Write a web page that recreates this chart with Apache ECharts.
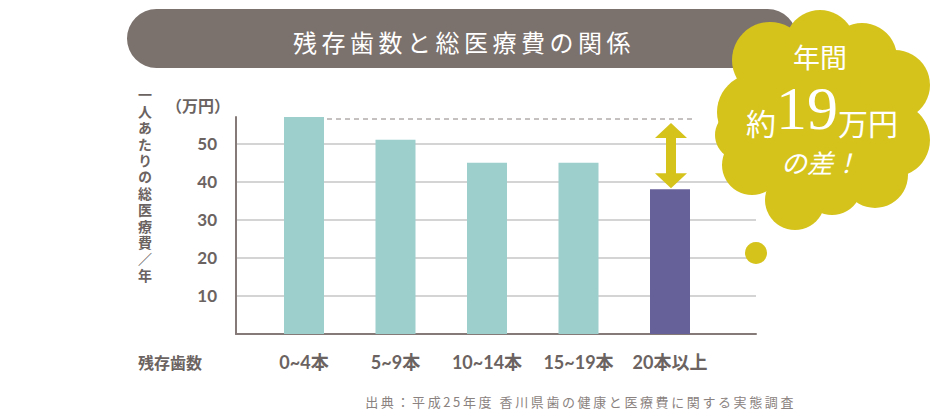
<!DOCTYPE html>
<html><head><meta charset="utf-8">
<script src="https://cdn.jsdelivr.net/npm/echarts@6/dist/echarts.min.js"></script>
<style>html,body{margin:0;padding:0;background:#fff}#c{width:930px;height:420px}</style>
</head><body><div id="c"></div>
<script>
const categories = ['0~4本', '5~9本', '10~14本', '15~19本', '20本以上'];
const values = [57, 51, 45, 45, 38];
const highlightIndex = 4;
const yMin = 0, yMax = 57, yInterval = 10;
const titleText = '残存歯数と総医療費の関係';
const yNameText = '一人あたりの総医療費／年';
const unitText = '（万円）';
const xNameText = '残存歯数';
const sourceText = '出典：平成25年度 香川県歯の健康と医療費に関する実態調査';
const calloutLines = ['年間', '約', '19', '万円', 'の差！'];

const TEAL = '#9dcfcd', PURPLE = '#67619a', YELLOW = '#d5c31c', PILL = '#7b716d', TXT = '#6b6361';
const LABEL_FONT = "Lato, 'Noto Sans CJK JP', sans-serif";
const CJK = "'Noto Sans CJK JP', sans-serif";

const chart = echarts.init(document.getElementById('c'), null, {renderer: 'svg'});

const option = {
  animation: false,
  backgroundColor: '#fff',
  grid: [
    {left: 236, right: 174, top: 117, bottom: 86},
    {left: 258.25, right: 214.25, top: 117, bottom: 86}
  ],
  xAxis: [
    {gridIndex: 0, type: 'value', min: 0, max: 1,
     axisLine: {show: true, lineStyle: {color: '#857a77', width: 2}},
     axisTick: {show: false}, axisLabel: {show: false}, splitLine: {show: false}},
    {gridIndex: 1, type: 'category', data: categories,
     axisLine: {show: false}, axisTick: {show: false},
     axisLabel: {interval: 0, margin: 19, color: TXT, fontSize: 18, fontWeight: 'bold', fontFamily: LABEL_FONT}}
  ],
  yAxis: [
    {gridIndex: 0, type: 'value', min: yMin, max: yMax, interval: yInterval,
     axisLine: {show: true, lineStyle: {color: '#857a77', width: 2}},
     axisTick: {show: false},
     axisLabel: {margin: 19, color: TXT, fontSize: 17, fontWeight: 'bold', fontFamily: LABEL_FONT,
                 showMinLabel: false, showMaxLabel: false},
     splitLine: {show: true, showMinLine: false, showMaxLine: false, lineStyle: {color: '#d4d4d4', width: 2}}},
    {gridIndex: 1, type: 'value', min: yMin, max: yMax, interval: yInterval, show: false,
     splitLine: {show: false}}
  ],
  series: [{
    type: 'bar', xAxisIndex: 1, yAxisIndex: 1, barWidth: 40,
    data: values.map((v, i) => ({value: v, itemStyle: {color: i === highlightIndex ? PURPLE : TEAL}}))
  }]
};
chart.setOption(option);

// annotation positions derived from the axes
const pTop = chart.convertToPixel({xAxisIndex: 1, yAxisIndex: 1}, [categories[0], values[0]]);
const pLow = chart.convertToPixel({xAxisIndex: 1, yAxisIndex: 1}, [categories[highlightIndex], values[highlightIndex]]);
const dashY = pTop[1] + 2;
const cx = pLow[0] + 1, t = pTop[1] + 6, b = pLow[1] - 1;
const arrowPts = [[cx, t], [cx + 16, t + 15], [cx + 5, t + 15], [cx + 5, b - 15], [cx + 16, b - 15],
  [cx, b], [cx - 16, b - 15], [cx - 5, b - 15], [cx - 5, t + 15], [cx - 16, t + 15]];

const cloudCircles = [
  [822, 120, 85], [770, 60, 38], [820, 45, 35], [862, 58, 35], [895, 85, 35], [893, 140, 37],
  [875, 175, 33], [832, 185, 30], [795, 200, 30], [752, 165, 30], [755, 112, 38], [740, 135, 25]
];

const graphics = [
  {type: 'rect', z: 1, shape: {x: 127, y: 9, width: 670, height: 59, r: 29.5}, style: {fill: PILL}},
  {type: 'text', z: 2, x: 464, y: 41, style: {text: titleText, fill: '#fff', font: "24px " + CJK, textAlign: 'center', textVerticalAlign: 'middle'}},
  {type: 'text', z: 2, x: 198, y: 105, style: {text: unitText, fill: TXT, font: "bold 16px " + CJK, textAlign: 'center', textVerticalAlign: 'middle'}},
  {type: 'text', z: 2, x: 145, y: 88, style: {text: yNameText, fill: TXT, font: "bold 14px " + CJK, textAlign: 'left', textVerticalAlign: 'middle'}},
  {type: 'text', z: 2, x: 170, y: 362, style: {text: xNameText, fill: TXT, font: "bold 16px " + CJK, textAlign: 'center', textVerticalAlign: 'middle'}},
  {type: 'text', z: 2, x: 796, y: 401, style: {text: sourceText, fill: '#8a8280', font: "13px " + CJK, textAlign: 'right', textVerticalAlign: 'middle'}},
  {type: 'line', z: 2, shape: {x1: pTop[0] + 23, y1: dashY, x2: pLow[0] + 23, y2: dashY},
   style: {stroke: '#8a8280', lineWidth: 1, lineDash: [5, 4]}},
  {type: 'polygon', z: 3, shape: {points: arrowPts}, style: {fill: YELLOW}}
];
cloudCircles.forEach(c => graphics.push({type: 'circle', z: 10, shape: {cx: c[0], cy: c[1], r: c[2]}, style: {fill: YELLOW}}));
graphics.push({type: 'circle', z: 10, shape: {cx: 756, cy: 253, r: 11}, style: {fill: YELLOW}});
graphics.push({type: 'text', z: 11, x: 820, y: 56.5, style: {text: calloutLines[0], fill: '#fff', font: "27px " + CJK, textAlign: 'center', textVerticalAlign: 'middle'}});
graphics.push({type: 'text', z: 11, x: 822, y: 139, style: {
  text: '{a|' + calloutLines[1] + '}{n|' + calloutLines[2] + '}{a|' + calloutLines[3] + '}',
  textAlign: 'center', textVerticalAlign: 'bottom',
  rich: {a: {fontSize: 30, fontFamily: CJK, fill: '#fff', verticalAlign: 'bottom', lineHeight: 50, padding: [0, 0, 2, 0]},
         n: {fontSize: 62, fontFamily: "'Liberation Serif', 'DejaVu Serif', serif", fill: '#fff', verticalAlign: 'bottom', lineHeight: 50}}
}});
graphics.push({type: 'text', z: 11, x: 820, y: 161, style: {text: calloutLines[4], fill: '#fff', font: "italic 26px " + CJK, textAlign: 'center', textVerticalAlign: 'middle'}});

chart.setOption({graphic: graphics});

function applySpacing() {
  document.querySelectorAll('#c svg text').forEach(el => {
    const s = el.textContent;
    if (s === titleText) el.setAttribute('letter-spacing', '4.5');
    else if (s === sourceText) el.setAttribute('letter-spacing', '2.6');
    else if (s === yNameText) {
      el.style.writingMode = 'vertical-rl';
      el.setAttribute('letter-spacing', '2.4');
    }
  });
}
applySpacing();
chart.on('finished', applySpacing);
</script>
</body></html>
